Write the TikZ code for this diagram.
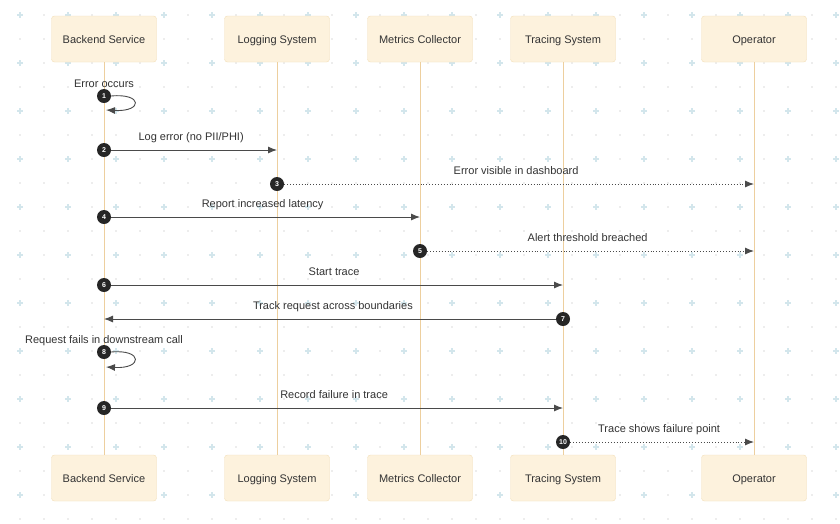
\documentclass[tikz,border=0pt]{standalone}
\usepackage{fontspec}
\setmainfont{Liberation Sans}
\usetikzlibrary{arrows.meta}

\definecolor{boxfill}{HTML}{FDF2DD}
\definecolor{boxline}{HTML}{F3DFB9}
\definecolor{lifeline}{HTML}{EDCF9E}
\definecolor{txt}{HTML}{333333}
\definecolor{msgline}{HTML}{4A4A4A}
\definecolor{gridplus}{HTML}{D3E6EC}
\definecolor{griddot}{HTML}{DCDCDC}

\tikzset{
	actor/.style = {draw=boxline, fill=boxfill, rounded corners=3pt, minimum width=105pt, minimum height=46pt, text=txt, text height=8pt, text depth=0pt, font=\fontsize{11}{13}\selectfont},
	life/.style = {draw=lifeline, line width=0.9pt},
	num/.style = {circle, fill=black!85, text=white, inner sep=0pt, minimum size=14pt, font=\fontsize{7}{8}\selectfont\bfseries},
	msg/.style = {draw=msgline, line width=0.9pt, -{Latex[length=9pt,width=7pt]}},
	reply/.style = {msg, dotted},
	lbl/.style = {text=txt, font=\fontsize{11}{13}\selectfont, anchor=base, inner sep=0pt},
}

\begin{document}
\begin{tikzpicture}[x=1pt, y=-1pt]
		\useasboundingbox[fill=white] (0,0) rectangle (840,523);
		% Raster im Hintergrund
		\foreach \i in {0,...,34} {
			\foreach \j in {0,...,21} {
				\pgfmathtruncatemacro{\odd}{mod(\i,2)+mod(\j,2)}
				\ifnum\odd=0
					\draw[gridplus, line width=1.1pt] (20+24*\i-2.6,15+24*\j) -- ++(5.2,0) (20+24*\i,15+24*\j-2.6) -- ++(0,5.2);
				\else
					\fill[griddot] (20+24*\i,15+24*\j) circle (0.8);
				\fi
			}
		}

		% Teilnehmer oben und unten
		\node[actor] (bs) at (104,39) {Backend Service};
		\node[actor] (ls) at (277,39) {Logging System};
		\node[actor] (mc) at (420,39) {Metrics Collector};
		\node[actor] (ts) at (563,39) {Tracing System};
		\node[actor] (op) at (754,39) {Operator};
		\node[actor] (bsb) at (104,478) {Backend Service};
		\node[actor] (lsb) at (277,478) {Logging System};
		\node[actor] (mcb) at (420,478) {Metrics Collector};
		\node[actor] (tsb) at (563,478) {Tracing System};
		\node[actor] (opb) at (754,478) {Operator};

		% Lebenslinien
		\draw[life] (bs) -- (bsb);
		\draw[life] (ls) -- (lsb);
		\draw[life] (mc) -- (mcb);
		\draw[life] (ts) -- (tsb);
		\draw[life] (op) -- (opb);

		% 1: Schleife
		\node[num] (n1) at (104,96) {1};
		\coordinate (r1) at (106,110);
		\draw[msg] (n1.east) .. controls (143,93) and (143,112) .. (r1);
		\node[lbl] (t1) at ([yshift=9pt]n1.center) {Error occurs};

		% 2
		\node[num] (n2) at (104,150) {2};
		\coordinate (r2) at (277,150);
		\draw[msg] (n2) -- (r2) node[lbl, midway, xshift=-3pt, yshift=10pt] {Log error (no PII/PHI)};

		% 3
		\node[num] (n3) at (277,184) {3};
		\coordinate (r3) at (754,184);
		\draw[reply] (n3) -- (r3) node[lbl, midway, xshift=-3pt, yshift=10pt] {Error visible in dashboard};

		% 4
		\node[num] (n4) at (104,217) {4};
		\coordinate (r4) at (420,217);
		\draw[msg] (n4) -- (r4) node[lbl, midway, xshift=-3pt, yshift=10pt] {Report increased latency};

		% 5
		\node[num] (n5) at (420,251) {5};
		\coordinate (r5) at (754,251);
		\draw[reply] (n5) -- (r5) node[lbl, midway, xshift=-3pt, yshift=10pt] {Alert threshold breached};

		% 6
		\node[num] (n6) at (104,285) {6};
		\coordinate (r6) at (563,285);
		\draw[msg] (n6) -- (r6) node[lbl, midway, xshift=-3pt, yshift=10pt] {Start trace};

		% 7
		\node[num] (n7) at (563,319) {7};
		\coordinate (r7) at (104,319);
		\draw[msg] (n7) -- (r7) node[lbl, midway, xshift=3pt, yshift=10pt] {Track request across boundaries};

		% 8: Schleife
		\node[num] (n8) at (104,352) {8};
		\coordinate (r8) at (106,367);
		\draw[msg] (n8.east) .. controls (143,349) and (143,369) .. (r8);
		\node[lbl] (t8) at ([yshift=9pt]n8.center) {Request fails in downstream call};

		% 9
		\node[num] (n9) at (104,408) {9};
		\coordinate (r9) at (563,408);
		\draw[msg] (n9) -- (r9) node[lbl, midway, xshift=-3pt, yshift=10pt] {Record failure in trace};

		% 10
		\node[num] (n10) at (563,442) {10};
		\coordinate (r10) at (754,442);
		\draw[reply] (n10) -- (r10) node[lbl, midway, xshift=-3pt, yshift=10pt] {Trace shows failure point};
	\end{tikzpicture}
\end{document}
